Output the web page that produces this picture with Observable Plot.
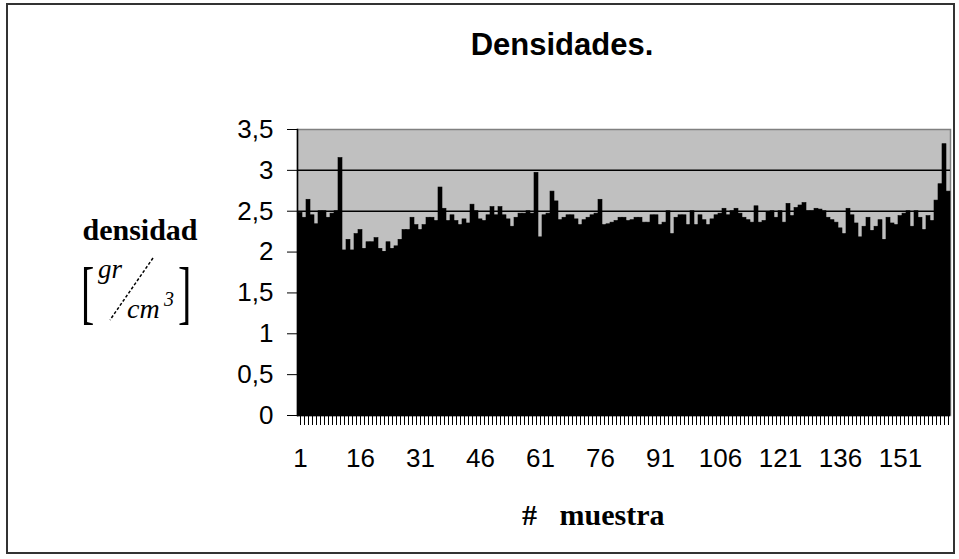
<!DOCTYPE html>
<html>
<head>
<meta charset="utf-8">
<script src="https://cdn.jsdelivr.net/npm/d3@7"></script>
<script src="https://cdn.jsdelivr.net/npm/@observablehq/plot@0.6"></script>
<style>
  html, body { margin: 0; padding: 0; background: #fff; }
  #wrap { position: relative; width: 959px; height: 559px; overflow: hidden; }
  #wrap > svg { position: absolute; left: 0; top: 0; }
</style>
</head>
<body>
<div id="wrap"></div>
<script>
// ---- data ----
const muestras = d3.range(1, 164); // sample numbers 1..163
const densidad = [
  2.48, 2.42, 2.64, 2.45, 2.34, 2.50, 2.50, 2.42, 2.47, 2.50,
  3.15, 2.02, 2.15, 2.02, 2.22, 2.27, 2.04, 2.12, 2.12, 2.17,
  2.04, 2.00, 2.12, 2.04, 2.07, 2.15, 2.27, 2.27, 2.42, 2.33,
  2.27, 2.33, 2.42, 2.42, 2.38, 2.79, 2.53, 2.38, 2.45, 2.38,
  2.33, 2.40, 2.35, 2.58, 2.50, 2.40, 2.38, 2.45, 2.55, 2.45,
  2.55, 2.45, 2.40, 2.31, 2.42, 2.47, 2.47, 2.50, 2.47, 2.97,
  2.18, 2.45, 2.47, 2.74, 2.62, 2.39, 2.42, 2.45, 2.45, 2.40,
  2.33, 2.39, 2.42, 2.45, 2.47, 2.64, 2.33, 2.34, 2.36, 2.38,
  2.42, 2.42, 2.38, 2.39, 2.42, 2.42, 2.36, 2.36, 2.45, 2.45,
  2.33, 2.36, 2.50, 2.22, 2.42, 2.45, 2.45, 2.33, 2.50, 2.33,
  2.45, 2.39, 2.33, 2.40, 2.45, 2.47, 2.53, 2.45, 2.50, 2.53,
  2.47, 2.42, 2.39, 2.36, 2.56, 2.36, 2.38, 2.49, 2.50, 2.42,
  2.50, 2.36, 2.59, 2.44, 2.54, 2.57, 2.60, 2.50, 2.50, 2.53,
  2.52, 2.50, 2.42, 2.39, 2.36, 2.29, 2.22, 2.53, 2.45, 2.35,
  2.18, 2.31, 2.42, 2.26, 2.31, 2.39, 2.15, 2.42, 2.35, 2.33,
  2.44, 2.47, 2.50, 2.31, 2.50, 2.42, 2.27, 2.44, 2.38, 2.63,
  2.83, 3.32, 2.74
];
const xTickLabels = [1, 16, 31, 46, 61, 76, 91, 106, 121, 136, 151];
const yTicks = [0, 0.5, 1, 1.5, 2, 2.5, 3, 3.5];
const gridValues = [0.5, 1, 1.5, 2, 2.5, 3];

const rows = muestras.map((m, i) => ({muestra: m, densidad: densidad[i]}));
const fmtComma = d => String(d).replace(".", ",");

const chart = Plot.plot({
  width: 959,
  height: 559,
  marginLeft: 297,
  marginRight: 9,
  marginTop: 129,
  marginBottom: 144,
  style: {fontFamily: "'Liberation Sans', Arial, sans-serif", fontSize: "26px", color: "black", background: "transparent"},
  x: {type: "band", domain: muestras, padding: 0, label: null},
  y: {domain: [0, 3.5], label: null},
  marks: [
    Plot.frame({fill: "#c0c0c0", stroke: "#808080", strokeWidth: 1.5}),
    Plot.ruleY(gridValues, {stroke: "#000", strokeWidth: 1.5}),
    Plot.barY(rows, {x: "muestra", y: "densidad", fill: "#000", stroke: "#000", strokeWidth: 0.6}),
    Plot.ruleY([0], {stroke: "#000", strokeWidth: 1.5}),
    Plot.frame({anchor: "left", stroke: "#000", strokeWidth: 1.5}),
    Plot.axisY({ticks: yTicks, tickSize: 10, tickPadding: 14, tickFormat: fmtComma, label: null, stroke: "#000"}),
    Plot.axisX({ticks: muestras, tickSize: 10, tickPadding: 23, label: null, stroke: "#000", strokeWidth: 1,
                tickFormat: d => xTickLabels.includes(d) ? String(d) : ""})
  ]
});
const wrap = document.getElementById("wrap");
wrap.appendChild(chart);

// ---- overlay texts (title, axis titles, outer border) ----
const ov = d3.select(wrap).append("svg")
  .attr("width", 959).attr("height", 559)
  .style("pointer-events", "none");

ov.append("rect").attr("x", 7).attr("y", 4).attr("width", 947).attr("height", 549)
  .attr("fill", "none").attr("stroke", "#333").attr("stroke-width", 2);

ov.append("text").attr("x", 562).attr("y", 55).attr("text-anchor", "middle")
  .attr("font-family", "'Liberation Sans', Arial, sans-serif").attr("font-size", 31)
  .attr("font-weight", "bold").text("Densidades.");

const serif = "'Liberation Serif', 'Times New Roman', serif";
ov.append("text").attr("x", 140).attr("y", 240).attr("text-anchor", "middle")
  .attr("font-family", serif).attr("font-size", 30).attr("font-weight", "bold").text("densidad");

// unit: [ gr / cm^3 ]
const brk = ov.append("g").attr("font-family", serif).attr("fill", "#000");
brk.append("text").attr("transform", "translate(81,316) scale(1,1.75)")
  .attr("font-size", 40).text("[");
brk.append("text").attr("transform", "translate(178,316) scale(1,1.75)")
  .attr("font-size", 40).text("]");
brk.append("text").attr("x", 98).attr("y", 278).attr("font-size", 27).attr("font-style", "italic").text("gr");
brk.append("text").attr("x", 127).attr("y", 318).attr("font-size", 28).attr("font-style", "italic").text("cm");
brk.append("text").attr("x", 164).attr("y", 306).attr("font-size", 20).attr("font-style", "italic").text("3");
ov.append("line").attr("x1", 153).attr("y1", 258).attr("x2", 110).attr("y2", 320)
  .attr("stroke", "#000").attr("stroke-width", 1.5).attr("stroke-dasharray", "3,2");

ov.append("text").attr("x", 522).attr("y", 525).attr("font-family", serif)
  .attr("font-size", 30).attr("font-weight", "bold").attr("xml:space", "preserve")
  .style("white-space", "pre").text("#   muestra");
</script>
</body>
</html>
